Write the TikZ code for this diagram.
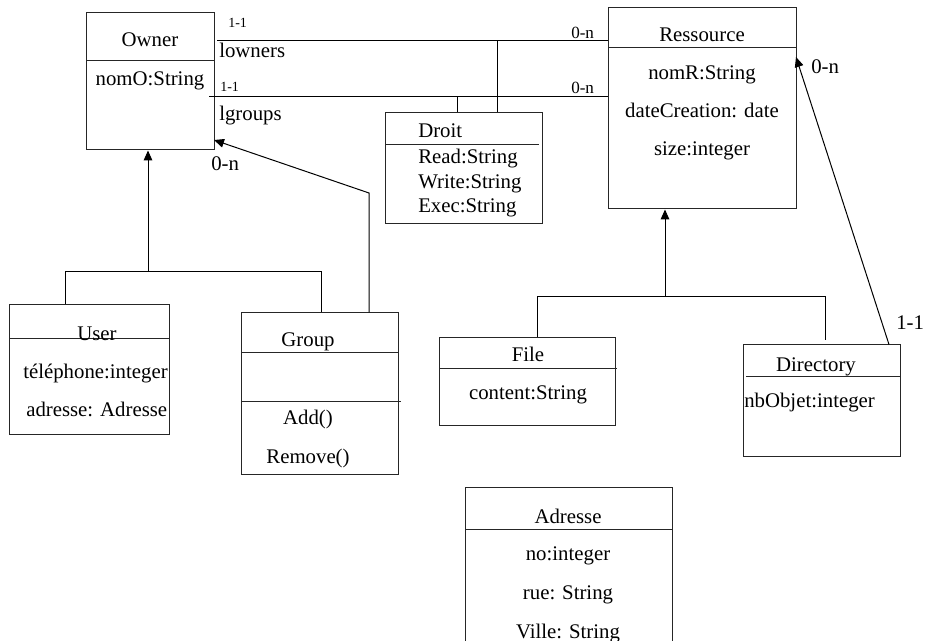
\documentclass[tikz,border=0pt]{standalone}
\usepackage{fontspec}
\setmainfont{Liberation Serif}
\usetikzlibrary{arrows.meta,fit}
\begin{document}
\begin{tikzpicture}[x=0.75pt,y=-0.75pt,
  box/.style={draw=black!85, line width=0.75pt, inner sep=0pt},
  divl/.style={draw=black!85, line width=0.75pt},
  txt/.style={inner sep=0pt, anchor=base, font=\fontsize{15.6}{18}\selectfont},
  txtl/.style={txt, anchor=base west},
  sm/.style={inner sep=0pt, anchor=base west, font=\fontsize{10.5}{12}\selectfont},
  md/.style={inner sep=0pt, anchor=base west, font=\fontsize{12.8}{15}\selectfont},
  conn/.style={draw=black, line width=0.75pt},
  tip/.style={-{Triangle[length=7.5pt,width=6.5pt]}}
]
\useasboundingbox (0,0) rectangle (925,641);

% ---------- boxes ----------
\node[box, fit={(86,13)(214,150)}] (owner) {};
\draw[divl] (86,61) -- (214,61);
\node[box, fit={(608,8)(796,209)}] (res) {};
\draw[divl] (608,48) -- (796,48);
\node[box, fit={(385,113)(542,224)}] (droit) {};
\draw[divl] (385,145) -- (539,145);
\node[box, fit={(9,305)(169,435)}] (user) {};
\draw[divl] (9,339) -- (169,339);
\node[box, fit={(241,313)(398,475)}] (group) {};
\draw[divl] (241,353) -- (398,353);
\draw[divl] (241,402) -- (401,402);
\node[box, fit={(439,338)(615,426)}] (file) {};
\draw[divl] (439,369) -- (617,369);
\node[box, fit={(743,345)(900,457)}] (dir) {};
\draw[divl] (746,377) -- (900,377);
\node[box, fit={(465,488)(672,660)}] (adr) {};
\draw[divl] (465,529) -- (672,529);

% ---------- texts ----------
\node[txt] (tOwner) at (150,47) {Owner};
\node[txt] (tNomO) at (150,86) {nomO:String};

\node[txt] (tRes) at (702,42) {Ressource};
\node[txt] (tNomR) at (702,80) {nomR:String};
\node[txt] (tDate) at (702,118) {dateCreation: date};
\node[txt] (tSize) at (702,156) {size:integer};

\node[txtl] (tDroit) at (418,138) {Droit};
\node[txtl] (tRead) at (418,164) {Read:String};
\node[txtl] (tWrite) at (418,189) {Write:String};
\node[txtl] (tExec) at (418,213) {Exec:String};

\node[txt] (tUser) at (97,341) {User};
\node[txtl] (tTel) at (23,379) {téléphone:integer};
\node[txtl] (tAdr) at (26,417) {adresse: Adresse};

\node[txt] (tGroup) at (308,347) {Group};
\node[txt] (tAdd) at (308,425) {Add()};
\node[txt] (tRem) at (308,464) {Remove()};

\node[txt] (tFile) at (528,362) {File};
\node[txt] (tCont) at (528,400) {content:String};

\node[txt] (tDir) at (816,372) {Directory};
\node[txtl] (tNb) at (744,408) {nbObjet:integer};

\node[txt] (tAdresse) at (568,523) {Adresse};
\node[txt] (tNo) at (568,561) {no:integer};
\node[txt] (tRue) at (568,599) {rue: String};
\node[txt] (tVille) at (568,638) {Ville: String};

% ---------- multiplicities / role names ----------
\node[sm] (m1) at (228,28) {1-1};
\node[txtl] (lown) at (219,58) {lowners};
\node[sm] (m2) at (220,92) {1-1};
\node[txtl] (lgr) at (219,121) {lgroups};
\node[txtl] (m3) at (211,171) {0-n};
\node[md] (m4) at (571,39) {0-n};
\node[md] (m5) at (571,94) {0-n};
\node[txtl] (m6) at (811,74) {0-n};
\node[txtl] (m7) at (896,330) {1-1};

% ---------- associations ----------
\coordinate (a1) at (217,41);
\coordinate (a2) at (209,97);
\draw[conn] (a1) -- (a1 -| res.west);
\draw[conn] (a2) -- (a2 -| res.west);
\coordinate (j1) at (497,41);
\coordinate (j2) at (457,97);
\draw[conn] (j1) -- (j1 |- droit.north);
\draw[conn] (j2) -- (j2 |- droit.north);

% Owner inheritance
\coordinate (h1) at (148,272);
\coordinate (hu) at (65,272);
\coordinate (hg) at (321,272);
\draw[conn,tip] (h1) -- (h1 |- owner.south);
\draw[conn] (hu |- user.north) -- (hu) -- (hg) -- (hg |- group.north);

% Group -> Owner
\coordinate (g2) at (369,193);
\coordinate (ot) at (214,140);
\draw[conn,tip] (g2 |- group.north) -- (g2) -- (ot);

% Ressource inheritance
\coordinate (r1) at (665,297);
\coordinate (rf) at (537,297);
\coordinate (rd) at (825,297);
\coordinate (rdend) at (825,340);
\draw[conn,tip] (r1) -- (r1 |- res.south);
\draw[conn] (rf |- file.north) -- (rf) -- (rd) -- (rdend);

% Directory -> Ressource
\coordinate (dtop) at (889,345);
\coordinate (rt) at (796,57);
\draw[conn,tip] (dtop |- dir.north) -- (rt);
\end{tikzpicture}
\end{document}
